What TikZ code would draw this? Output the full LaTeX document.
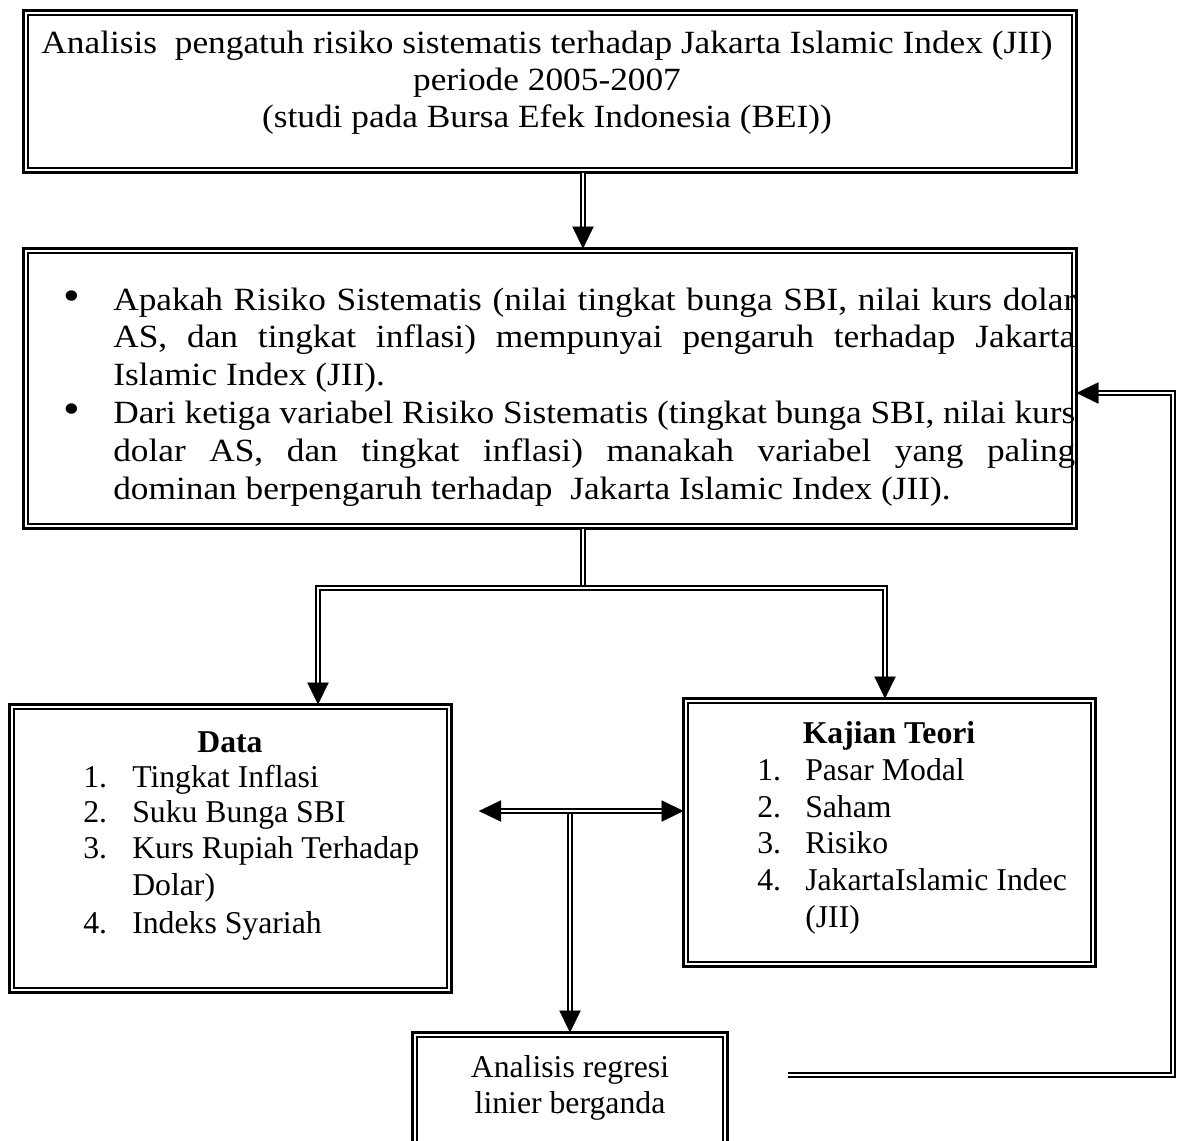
\documentclass[tikz,border=0pt]{standalone}
\usepackage{fontspec}
\setmainfont{Liberation Serif}
\newfontfamily\antiqua[FakeStretch=1.09]{Liberation Serif}
\usetikzlibrary{arrows.meta,fit,calc}
\begin{document}
\begin{tikzpicture}[x=0.75pt,y=-0.75pt,
  outerbox/.style={draw, line width=2.2pt, rectangle, inner sep=0pt, outer sep=0pt},
  innerline/.style={line width=1.3pt},
  dbl/.style={draw, double, line width=1.2pt, double distance=1.7pt},
  tipa/.style={-{Triangle[length=16.5pt,width=16pt]}, line width=0.1pt},
  ant/.style={font=\antiqua\fontsize{24.3pt}{28pt}\selectfont, inner sep=0pt},
  tms/.style={font=\fontsize{23.8pt}{28pt}\selectfont, inner sep=0pt},
  tmsb/.style={font=\fontsize{23.8pt}{28pt}\selectfont\bfseries, inner sep=0pt},
]
\useasboundingbox (0,0) rectangle (1178,1140);
\fill[white] (0,0) rectangle (1178,1140);

% boxes
\node[outerbox, fit={(23.5,10.5) (1076.5,172.5)}] (b1) {};
\node[outerbox, fit={(23.5,248.5) (1076.5,528.5)}] (b2) {};
\node[outerbox, fit={(9.5,704.5) (451.5,992.5)}] (bd) {};
\node[outerbox, fit={(683.5,698.5) (1095.5,966.5)}] (bk) {};
\node[outerbox, fit={(412.5,1032.5) (727.5,1175)}] (ba) {};
\foreach \b in {b1,b2,bd,bk,ba}
  \draw[innerline] ([shift={(4.5,4.5)}]\b.north west) rectangle ([shift={(-4.5,-4.5)}]\b.south east);

% box 1 text
\node[ant, anchor=base] (t1a) at (547,53) {Analisis\ \ pengatuh risiko sistematis terhadap Jakarta Islamic Index (JII)};
\node[ant, anchor=base] (t1b) at (547,90) {periode 2005-2007};
\node[ant, anchor=base] (t1c) at (547,127) {(studi pada Bursa Efek Indonesia (BEI))};

% box 2 text
\node[ant, anchor=base] (u1) at (72,310) {\scalebox{1.35}{\textbullet}};
\node[ant, anchor=base west] (p1) at (113,310) {\makebox[721.5pt][s]{Apakah Risiko Sistematis (nilai tingkat bunga SBI, nilai kurs dolar}};
\node[ant, anchor=base west] (p2) at (113,347.5) {\makebox[721.5pt][s]{AS, dan tingkat inflasi) mempunyai pengaruh terhadap Jakarta}};
\node[ant, anchor=base west] (p3) at (113,385) {Islamic Index (JII).};
\node[ant, anchor=base] (u2) at (72,423) {\scalebox{1.35}{\textbullet}};
\node[ant, anchor=base west] (p4) at (113,423) {\makebox[721.5pt][s]{Dari ketiga variabel Risiko Sistematis (tingkat bunga SBI, nilai kurs}};
\node[ant, anchor=base west] (p5) at (113,461) {\makebox[721.5pt][s]{dolar AS, dan tingkat inflasi) manakah variabel yang paling}};
\node[ant, anchor=base west] (p6) at (113,499) {dominan berpengaruh terhadap\ \ Jakarta Islamic Index (JII).};

% Data box text
\node[tmsb, anchor=base] (dt) at (230,752) {Data};
\node[tms, anchor=base west] (d1) at (83,787.5) {\makebox[36.75pt][l]{1.}Tingkat Inflasi};
\node[tms, anchor=base west] (d2) at (83,822.5) {\makebox[36.75pt][l]{2.}Suku Bunga SBI};
\node[tms, anchor=base west] (d3) at (83,858.5) {\makebox[36.75pt][l]{3.}Kurs Rupiah Terhadap};
\node[tms, anchor=base west] (d3b) at (132,895.5) {Dolar)};
\node[tms, anchor=base west] (d4) at (83,933.5) {\makebox[36.75pt][l]{4.}Indeks Syariah};

% Kajian box text
\node[tmsb, anchor=base] (kt) at (889,743.5) {Kajian Teori};
\node[tms, anchor=base west] (k1) at (757,780.5) {\makebox[36pt][l]{1.}Pasar Modal};
\node[tms, anchor=base west] (k2) at (757,817.5) {\makebox[36pt][l]{2.}Saham};
\node[tms, anchor=base west] (k3) at (757,853.5) {\makebox[36pt][l]{3.}Risiko};
\node[tms, anchor=base west] (k4) at (757,890.5) {\makebox[36pt][l]{4.}JakartaIslamic Indec};
\node[tms, anchor=base west] (k4b) at (805,927.5) {(JII)};

% Analisis box text
\node[tms, anchor=base] (a1) at (570,1077.5) {Analisis regresi};
\node[tms, anchor=base] (a2) at (570,1113.5) {linier berganda};

% coordinates
\coordinate (x583) at (583,0);
\coordinate (j1) at (583,588);
\coordinate (c1) at (318,588);
\coordinate (c2) at (885,588);
\coordinate (j2) at (570,811);
\coordinate (dl) at (479,811);
\coordinate (fb0) at (788,1075);
\coordinate (fb1) at (1173,1075);
\coordinate (fb2) at (1173,393);
\coordinate (tb2) at (x583 |- b2.north);
\coordinate (tdat) at (c1 |- bd.north);
\coordinate (tkaj) at (c2 |- bk.north);
\coordinate (tkw) at (j2 -| bk.west);
\coordinate (tana) at (j2 |- ba.north);
\coordinate (tfb) at (fb2 -| b2.east);

% box1 -> box2
\draw[dbl, shorten >=14pt] (x583 |- b1.south) -- (tb2);
\draw[tipa] ($(tb2)+(0,-2)$) -- (tb2);

% box2 -> split
\draw[dbl] (x583 |- b2.south) -- (j1);
\draw[dbl, shorten <=14pt, shorten >=14pt] (tdat) -- (c1) -- (c2) -- (tkaj);
\draw[tipa] ($(tdat)+(0,-2)$) -- (tdat);
\draw[tipa] ($(tkaj)+(0,-2)$) -- (tkaj);

% double arrow and down to Analisis
\draw[dbl, shorten >=14pt] (j2) -- (tana);
\draw[tipa] ($(tana)+(0,-2)$) -- (tana);
\draw[dbl, shorten <=14pt, shorten >=14pt] (dl) -- (tkw);
\draw[tipa] ($(dl)+(2,0)$) -- (dl);
\draw[tipa] ($(tkw)+(-2,0)$) -- (tkw);

% feedback
\draw[dbl, shorten >=14pt] (fb0) -- (fb1) -- (fb2) -- (tfb);
\draw[tipa] ($(tfb)+(2,0)$) -- (tfb);
\end{tikzpicture}
\end{document}
